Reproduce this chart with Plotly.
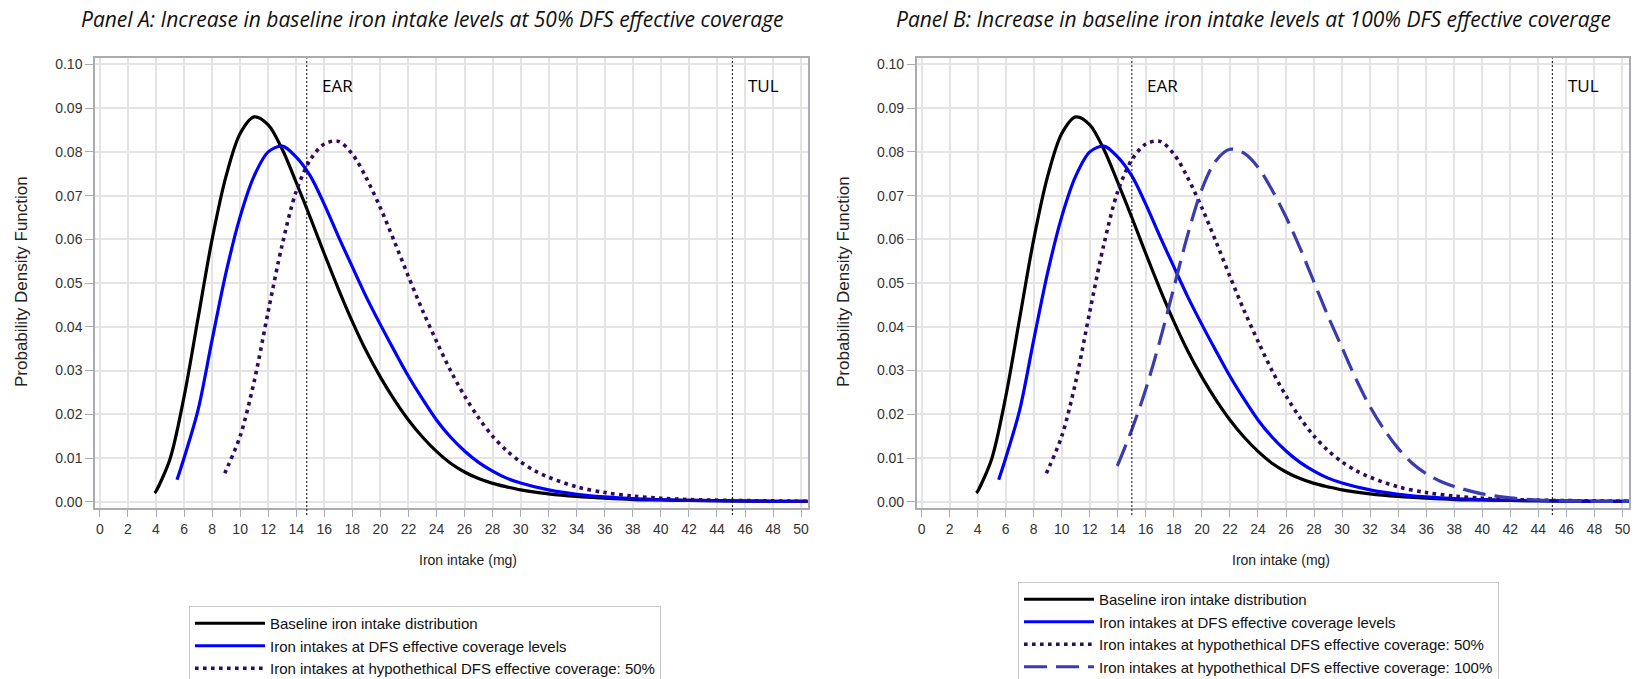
import plotly.graph_objects as go

# ---------------- data ----------------
baseline_x = [3.9, 4, 5, 6, 7, 8, 9, 10, 11, 12, 13, 14, 15, 16, 17, 18, 19, 20, 21, 22, 23, 24, 25,
              26, 27, 28, 29, 30, 32, 34, 36, 38, 40, 42, 45, 48, 50.5]
baseline_y = [0.0020, 0.0024, 0.0098, 0.0240, 0.0420, 0.0600, 0.0745, 0.0842, 0.0880, 0.0862, 0.0806,
              0.0730, 0.0650, 0.0567, 0.0487, 0.0412, 0.0344, 0.0285, 0.0233, 0.0187, 0.0148, 0.0115,
              0.0088, 0.0068, 0.0053, 0.0042, 0.0034, 0.0027, 0.0018, 0.0012, 0.0008, 0.0005, 0.0004,
              0.0003, 0.0002, 0.0001, 0.0001]

dfs_x = [5.5, 6, 7, 8, 9, 10, 11, 12, 13, 14, 15, 16, 17, 18, 19, 20, 21, 22, 23, 24, 25, 26, 27,
         28, 29, 30, 32, 34, 36, 38, 40, 42, 45, 48, 50.5]
dfs_y = [0.0050, 0.0100, 0.0210, 0.0370, 0.0525, 0.0652, 0.0745, 0.0800, 0.0813, 0.0788, 0.0745,
         0.0680, 0.0607, 0.0537, 0.0468, 0.0405, 0.0345, 0.0287, 0.0235, 0.0187, 0.0148, 0.0116,
         0.0090, 0.0070, 0.0054, 0.0043, 0.0027, 0.0017, 0.0011, 0.0007, 0.0005, 0.0003, 0.0002,
         0.0001, 0.0001]

hyp50_x = [8.9, 9, 10, 11, 12, 13, 14, 15, 16, 17, 18, 19, 20, 21, 22, 23, 24, 25, 26, 27, 28, 29,
           30, 31, 32, 34, 36, 38, 40, 42, 45, 48, 50.5]
hyp50_y = [0.0065, 0.0072, 0.0150, 0.0275, 0.0435, 0.0588, 0.0710, 0.0782, 0.0818, 0.0824, 0.0795,
           0.0740, 0.0672, 0.0595, 0.0515, 0.0438, 0.0367, 0.0300, 0.0242, 0.0192, 0.0150, 0.0117,
           0.0091, 0.0071, 0.0056, 0.0034, 0.0021, 0.0013, 0.0008, 0.0005, 0.0003, 0.0002, 0.0001]

hyp100_x = [13.95, 14, 15, 16, 17, 18, 19, 20, 21, 22, 23, 24, 25, 26, 27, 28, 29, 30, 31, 32, 33,
            34, 35, 36, 37, 38, 40, 42, 44, 46, 48, 50.5]
hyp100_y = [0.0082, 0.0085, 0.0165, 0.0258, 0.0368, 0.0490, 0.0612, 0.0715, 0.0780, 0.0806, 0.0797,
            0.0765, 0.0713, 0.0651, 0.0580, 0.0502, 0.0424, 0.0352, 0.0280, 0.0217, 0.0165, 0.0122,
            0.0088, 0.0064, 0.0047, 0.0035, 0.0018, 0.0009, 0.0004, 0.0002, 0.0001, 0.0001]

ear_values = [14.75, 15.0]   # panel A, panel B
tul_values = [45.1, 45.0]

series_names = ["Baseline iron intake distribution",
                "Iron intakes at DFS effective coverage levels",
                "Iron intakes at hypothethical DFS effective coverage: 50%",
                "Iron intakes at hypothethical DFS effective coverage: 100%"]
panel_titles = ["Panel A: Increase in baseline iron intake levels at 50% DFS effective coverage",
                "Panel B: Increase in baseline iron intake levels at 100% DFS effective coverage"]
x_title = "Iron intake (mg)"
y_title = "Probability Density Function"

# ---------------- styles ----------------
styles = [
    dict(color="#000000", width=3.2, dash="solid"),
    dict(color="#0000FF", width=3.2, dash="solid"),
    dict(color="#2E0B5C", width=3.6, dash="3.6px,4.4px"),
    dict(color="#3B3BB0", width=3.2, dash="23px,9px"),
]
series = [(baseline_x, baseline_y), (dfs_x, dfs_y), (hyp50_x, hyp50_y), (hyp100_x, hyp100_y)]

W, H = 1645, 679
fig = go.Figure()

panels = [
    dict(xa="x", ya="y", legend="legend", n=3),
    dict(xa="x2", ya="y2", legend="legend2", n=4),
]
for p in panels:
    for i in range(p["n"]):
        sx, sy = series[i]
        fig.add_trace(go.Scatter(
            x=sx, y=sy, mode="lines", name=series_names[i],
            line=dict(color=styles[i]["color"], width=styles[i]["width"], dash=styles[i]["dash"],
                      shape="spline", smoothing=0.9),
            xaxis=p["xa"], yaxis=p["ya"], legend=p["legend"], hoverinfo="skip"))

# domains in pixels
axA = (95, 807.7)
axB = (916.7, 1629)
top, bot = 58.3, 508.3
ydom = [1 - bot / H, 1 - top / H]

grid = "#E4E4E4"
border = "#A9ADB2"
tickfont = dict(family="Arial", size=14, color="#333333")

def xaxis(domain, anchor):
    return dict(domain=[domain[0] / W, domain[1] / W], anchor=anchor, range=[-0.35, 50.47],
                tickmode="linear", tick0=0, dtick=2, showgrid=True, gridcolor=grid, gridwidth=1.5,
                showline=True, linecolor=border, linewidth=1.5, mirror=True, ticks="outside",
                ticklen=7, tickcolor=border, tickwidth=1.2, tickfont=tickfont, zeroline=False)

def yaxis(anchor):
    return dict(domain=ydom, anchor=anchor, range=[-0.0015, 0.1014], tickmode="linear", tick0=0,
                dtick=0.01, tickformat=".2f", showgrid=True, gridcolor=grid, gridwidth=1.5,
                showline=True, linecolor=border, linewidth=1.5, mirror=True, ticks="outside",
                ticklen=8, tickcolor=border, tickwidth=1.2, tickfont=tickfont, zeroline=False)

legend_common = dict(xanchor="left", yanchor="top", bgcolor="white", bordercolor="#C8C8C8",
                     borderwidth=1, font=dict(family="Arial", size=15, color="#111111"),
                     itemwidth=70, tracegroupgap=0, traceorder="normal")

fig.update_layout(
    width=W, height=H, margin=dict(l=0, r=0, t=0, b=0, autoexpand=False),
    paper_bgcolor="white", plot_bgcolor="white", hovermode=False,
    xaxis=xaxis(axA, "y"), yaxis=yaxis("x"),
    xaxis2=xaxis(axB, "y2"), yaxis2=yaxis("x2"),
    legend=dict(x=189 / W, y=1 - 606 / H, **legend_common),
    legend2=dict(x=1018 / W, y=1 - 582 / H, **legend_common),
)

# reference lines + labels
for k, (xa, ya) in enumerate([("x", "y"), ("x2", "y2")]):
    for v in (ear_values[k], tul_values[k]):
        fig.add_shape(type="line", xref=xa, yref=ya + " domain", x0=v, x1=v, y0=-0.015, y1=1,
                      line=dict(color="#000000", width=1, dash="2px,2px"))
    fig.add_annotation(x=ear_values[k] + 0.95, y=0.0952, xref=xa, yref=ya, text="EAR",
                       showarrow=False, xanchor="left", yanchor="middle",
                       font=dict(family="Open Sans", size=17, color="#000"))
    fig.add_annotation(x=tul_values[k] + 1.0, y=0.0952, xref=xa, yref=ya, text="TUL",
                       showarrow=False, xanchor="left", yanchor="middle",
                       font=dict(family="Open Sans", size=17, color="#000"))

# panel titles and axis titles
title_cx = [433, 1253]
xt_cx = [468, 1281]
yt_cx = [21, 843]
for k in range(2):
    fig.add_annotation(x=title_cx[k] / W, y=1 - 19 / H, xref="paper", yref="paper",
                       text="<i>" + panel_titles[k] + "</i>", showarrow=False,
                       xanchor="center", yanchor="middle",
                       font=dict(family="Open Sans", size=21, color="#111"))
    fig.add_annotation(x=xt_cx[k] / W, y=1 - 560 / H, xref="paper", yref="paper", text=x_title,
                       showarrow=False, xanchor="center", yanchor="middle",
                       font=dict(family="Arial", size=14, color="#222"))
    fig.add_annotation(x=yt_cx[k] / W, y=1 - 282 / H, xref="paper", yref="paper", text=y_title,
                       showarrow=False, xanchor="center", yanchor="middle", textangle=-90,
                       font=dict(family="Arial", size=17, color="#222"))

fig.write_html("out.html", config={"displayModeBar": False},
               post_script="document.body.style.margin='0px';")
